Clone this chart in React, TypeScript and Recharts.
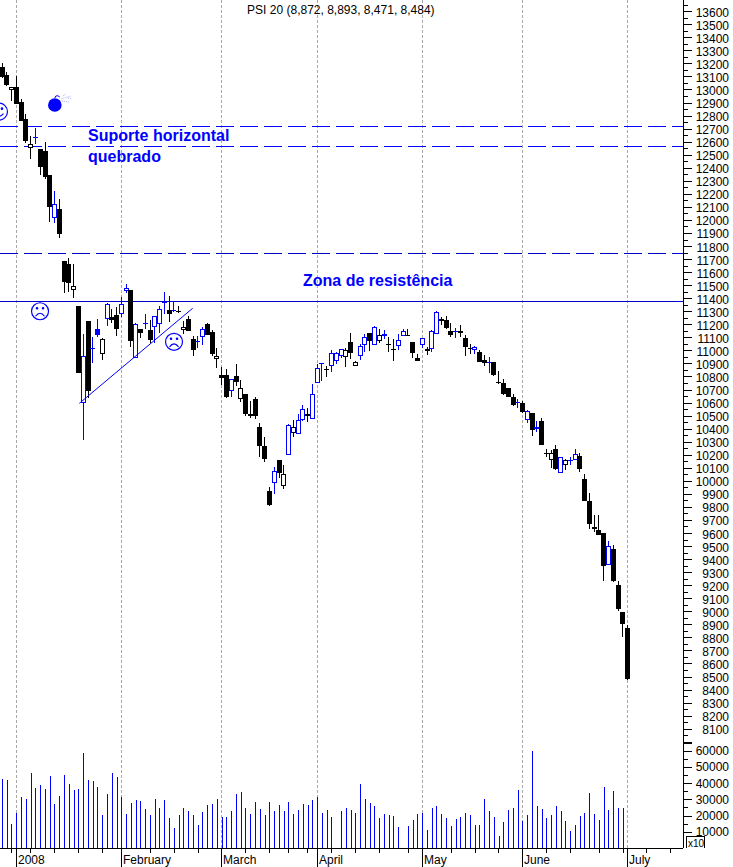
import React from "react";
import { ComposedChart, Bar, XAxis, YAxis, ReferenceLine, ReferenceDot, Customized } from "recharts";

const opens = [
  13176,13113,12993,13021,12901,12774,12554,12631,12544,12531,
  12345,12016,12087,11682,11664,11462,11337,10593,11223,11011,
  11167,10973,11243,11253,11269,11279,11455,11460,10942,11162,
  11207,11154,11179,11205,11368,11307,11305,11305,11159,11238,
  11085,11070,11103,11200,11141,10934,10809,10809,10689,10800,
  10631,10669,10509,10626,10412,10266,9922,9981,10157,9958,
  10200,10368,10360,10463,10511,10471,10751,10901,10861,10881,
  10919,10960,10950,11067,10881,10957,11041,11136,11041,11072,
  11113,11051,11012,11037,11113,11121,11067,10945,11044,10999,
  11014,11129,11228,11230,11152,11142,11152,11098,11021,11003,
  10985,10930,10904,10909,10758,10748,10710,10646,10598,10595,
  10463,10519,10394,10458,10216,10161,10241,10062,10123,10155,
  10157,10190,10014,9845,9629,9621,9598,9358,9478,9200,
  8994,8872,
];
const highs = [
  13202,13136,13021,13105,12927,12812,12646,12702,12547,12595,
  12347,12225,12162,11689,11710,11664,11337,11123,11223,11100,
  11238,11093,11360,11315,11332,11409,11506,11460,11207,11162,
  11276,11230,11261,11337,11447,11414,11370,11337,11223,11263,
  11108,11108,11179,11210,11154,11021,10873,10861,10784,10896,
  10771,10669,10611,10643,10440,10333,9950,10103,10157,10121,
  10432,10470,10511,10580,10557,10741,10894,10907,10878,11001,
  10986,11008,11018,11133,10917,11052,11123,11136,11184,11162,
  11159,11106,11087,11129,11162,11162,11067,10976,11098,11029,
  11154,11299,11256,11261,11213,11175,11192,11121,11052,11031,
  11001,10963,10950,10914,10840,10784,10710,10662,10631,10611,
  10542,10519,10458,10478,10241,10236,10272,10182,10164,10180,
  10241,10210,10052,9909,9738,9738,9600,9539,9509,9231,
  8996,8893,
];
const lows = [
  13090,13029,12914,12889,12755,12587,12470,12577,12348,12315,
  11990,11983,11860,11447,11447,11401,10827,10312,10634,10899,
  11098,10924,11187,11205,11108,11256,11435,11026,10942,11095,
  11162,11052,11057,11131,11282,11213,11294,11282,11123,11147,
  10955,11018,11039,11118,10955,10868,10733,10636,10649,10725,
  10605,10503,10483,10471,10177,10138,9802,9894,10021,9937,
  10198,10343,10358,10461,10452,10469,10749,10766,10797,10835,
  10896,10937,10873,10930,10879,10932,10988,11001,11039,11057,
  11087,10988,10919,11008,11111,11106,10942,10919,11021,10970,
  10988,11123,11192,11162,11103,11095,11103,10963,10976,10968,
  10907,10881,10827,10804,10741,10664,10641,10572,10562,10516,
  10445,10343,10376,10276,10180,10100,10083,10060,10077,10116,
  10155,10062,9848,9631,9610,9583,9235,9356,9228,8998,
  8802,8471,
];
const closes = [
  13092,13031,13019,12890,12757,12608,12579,12635,12403,12327,
  12097,12123,11891,11523,11519,11496,10827,10960,10687,11016,
  11116,11090,11358,11236,11161,11358,11481,11070,11205,11133,
  11210,11077,11261,11320,11370,11279,11307,11292,11182,11149,
  11001,11072,11164,11118,10970,10955,10789,10643,10784,10758,
  10708,10511,10498,10496,10269,10169,9817,10073,10062,10050,
  10425,10409,10463,10547,10498,10669,10868,10905,10853,10978,
  10982,11008,11001,10980,10914,11037,11103,11072,11182,11121,
  11129,11043,11005,11083,11152,11110,10980,10921,11098,11014,
  11152,11297,11243,11169,11118,11146,11136,11026,11011,11029,
  10909,10904,10909,10809,10752,10666,10643,10585,10601,10526,
  10539,10389,10409,10276,10213,10210,10090,10180,10157,10161,
  10207,10093,9848,9667,9646,9587,9350,9499,9235,9014,
  8906,8484,
];
const volumes: (number | null)[] = [
  42800,42200,15000,21800,31700,30500,46500,37250,39100,36600,
  44700,27400,32300,45300,39700,36000,36600,58900,42200,41600,
  37900,20600,33500,46500,44000,31700,21200,28000,29800,29200,
  24300,20600,30500,24900,29800,18700,12600,20600,24900,23000,
  20600,14400,22400,26800,27400,30500,19300,19300,23000,33500,
  34800,24900,21200,28600,24300,20600,28600,23000,26800,23000,
  28600,21200,23700,27400,26800,29800,31700,21800,23700,19300,
  null,23000,24900,23700,21800,39700,30500,28000,26100,18700,
  21200,20600,20000,13200,null,13800,17500,21200,21800,11300,
  24900,26100,21200,18700,13800,18100,19300,21800,20600,14400,
  14400,30500,23000,19300,7600,16300,23700,24900,36000,16900,
  20600,60100,26100,24300,18700,20600,26100,23000,16900,10700,
  14400,20000,21800,34200,21200,17500,37900,23700,35400,24900,
  24900,null,
];

const priceLabels = [
  13600,13500,13400,13300,13200,13100,13000,12900,12800,12700,12600,
  12500,12400,12300,12200,12100,12000,11900,11800,11700,11600,11500,
  11400,11300,11200,11100,11000,10900,10800,10700,10600,10500,10400,
  10300,10200,10100,10000,9900,9800,9700,9600,9500,9400,9300,9200,
  9100,9000,8900,8800,8700,8600,8500,8400,8300,8200,8100,
];
const priceTicks = [...priceLabels.flatMap((v) => [v, v + 50]), 8050, 8000];
const volumeLabels = [60000, 50000, 40000, 30000, 20000, 10000];
const volumeTicks = [...volumeLabels, 55000, 45000, 35000, 25000, 15000];

const monthIndex = [3, 25, 46, 66, 88, 109, 131];
const monthNames = ["2008", "February", "March", "April", "May", "June", "July"];
const weekIndex = [2, 6, 11, 16, 21, 31, 36, 41, 51, 56, 60, 64, 69, 74, 79, 85, 94, 99, 104, 114, 119, 125, 130, 135, 140];

const supportLevels = [12718, 12564];
const resistanceTop = 11741;
const resistanceBottom = 11376;
const trendStart = { i: 16.13, p: 10594 };
const trendEnd = { i: 39.87, p: 11323 };
const sadFaces = [
  { i: 7.9, p: 11300 },
  { i: 35.96, p: 11066 },
];
const otherFace = { i: -0.7, p: 12830 };
const bombAt = { i: 11, p: 12881 };

const xDomain: [number, number] = [-0.482, 142.55];
const priceDomain: [number, number] = [7975, 13686];
const backdropDomain: [number, number] = [7185, 13686];
const volumeDomain: [number, number] = [0, 63580];

const BLUE = "#0000ff";
const FONT = "'Liberation Sans', Arial, sans-serif";
const AXIS_X = 683;

const priceData = opens.map((o, i) => ({
  i,
  open: o,
  high: highs[i],
  low: lows[i],
  close: closes[i],
  prev: i > 0 ? closes[i - 1] : o + 1,
  range: [lows[i], highs[i]],
}));
const volumeData = volumes.map((v, i) => ({ i, volume: v }));

function Candle(props: any) {
  const { x, y, width, height, payload } = props;
  const { open, high, low, close, prev } = payload;
  const cx = Math.floor(x + width / 2);
  const yOf = (p: number) => y + ((high - p) / (high - low)) * height;
  const color = close >= prev ? BLUE : "#000000";
  const hollow = close > open;
  const top = Math.round(yOf(Math.max(open, close)));
  const bot = Math.round(yOf(Math.min(open, close)));
  const h = bot - top;
  return (
    <g shapeRendering="crispEdges">
      <rect x={cx} y={Math.round(y)} width={1} height={Math.max(Math.round(height), 1)} fill={color} />
      {hollow && h >= 2 ? (
        <rect x={cx - 1.5} y={top + 0.5} width={4} height={h - 1} fill="#ffffff" stroke={color} strokeWidth={1} />
      ) : (
        <rect x={cx - 2} y={top} width={5} height={Math.max(h, 1)} fill={color} />
      )}
    </g>
  );
}

function PriceTick(props: any) {
  const { y, payload } = props;
  const v = payload.value;
  const major = v % 100 === 0;
  const yy = Math.round(y) + 0.5;
  return (
    <g>
      <line x1={AXIS_X} x2={AXIS_X + (major ? 9 : 5)} y1={yy} y2={yy} stroke="#000" strokeWidth={v === 8000 ? 2 : 1} shapeRendering="crispEdges" />
      {major && v >= 8100 ? (
        <text x={729} y={y + 5.5} textAnchor="end" fontFamily={FONT} fontSize={12} fill="#000">{v}</text>
      ) : null}
    </g>
  );
}

function VolumeTick(props: any) {
  const { y, payload } = props;
  const v = payload.value;
  const major = v % 10000 === 0;
  const yy = Math.round(y) + 0.5;
  return (
    <g>
      <line x1={AXIS_X} x2={AXIS_X + (major ? 9 : 5)} y1={yy} y2={yy} stroke="#000" shapeRendering="crispEdges" />
      {major ? (
        <text x={729} y={y + 4.5} textAnchor="end" fontFamily={FONT} fontSize={12} fill="#000">{v}</text>
      ) : null}
    </g>
  );
}

function DateTick(props: any) {
  const { x, y, payload } = props;
  const m = monthIndex.indexOf(payload.value);
  const xx = Math.floor(x) + 0.5;
  return (
    <g shapeRendering="crispEdges">
      <line x1={xx} x2={xx} y1={y} y2={y + (m >= 0 ? 19 : 5)} stroke="#000" />
      {m >= 0 ? (
        <text x={xx + 1.5} y={y + 16} fontFamily={FONT} fontSize={12} fill="#000">{monthNames[m]}</text>
      ) : null}
    </g>
  );
}

const label = (text: string, size: number, anchor: string, bold: boolean, fill: string) => (p: any) => (
  <text x={p.cx} y={p.cy} fontFamily={FONT} fontSize={size} fontWeight={bold ? 700 : 400} textAnchor={anchor as any} fill={fill}>
    {text}
  </text>
);

function Face({ cx, cy, sad }: { cx: number; cy: number; sad: boolean }) {
  return (
    <g fill="none" stroke={BLUE} strokeWidth={1.2}>
      <circle cx={cx} cy={cy} r={8.5} fill="#ffffff" />
      <circle cx={cx - 3} cy={cy - 3} r={0.7} fill={BLUE} />
      <circle cx={cx + 3} cy={cy - 3} r={0.7} fill={BLUE} />
      {sad ? (
        <path d={`M${cx - 4.5} ${cy + 5} Q${cx} ${cy - 1} ${cx + 4.5} ${cy + 5}`} />
      ) : (
        <path d={`M${cx - 4.5} ${cy + 2} Q${cx} ${cy + 7} ${cx + 4.5} ${cy + 2}`} />
      )}
    </g>
  );
}

function Bomb({ cx, cy }: { cx: number; cy: number }) {
  return (
    <g>
      <circle cx={cx} cy={cy} r={6.8} fill={BLUE} />
      <path d={`M${cx} ${cy - 7} L${cx + 1} ${cy - 9} Q${cx + 3} ${cy - 10} ${cx + 5} ${cy - 8}`} fill="none" stroke={BLUE} strokeWidth={1} />
      <path
        d={`M${cx + 6} ${cy - 6} L${cx + 16} ${cy - 9} M${cx + 7} ${cy - 4} L${cx + 15} ${cy - 3} M${cx + 8} ${cy - 9} L${cx + 11} ${cy - 11} M${cx + 13} ${cy - 7} L${cx + 17} ${cy - 6}`}
        fill="none"
        stroke="#a8a8ff"
        strokeWidth={1}
        strokeDasharray="1 1"
      />
    </g>
  );
}

function XTenBox() {
  return (
    <g>
      <path d="M686.5 103 V91.5 H704.5 V103" fill="#ffffff" stroke="#000" shapeRendering="crispEdges" />
      <text x={688} y={102} fontFamily={FONT} fontSize={10} fill="#000">x10</text>
    </g>
  );
}

export default function App() {
  return (
    <div style={{ position: "absolute", left: 0, top: 0, width: 733, height: 867, background: "#fff", overflow: "hidden" }}>
      <div style={{ position: "absolute", left: 0, top: 0 }}>
        <ComposedChart width={733} height={848} data={priceData} margin={{ top: 0, right: 50, bottom: 0, left: 0 }}>
          <XAxis dataKey="i" type="number" domain={xDomain} allowDataOverflow hide />
          <YAxis type="number" domain={backdropDomain} allowDataOverflow hide />
          {monthIndex.map((m) => (
            <ReferenceLine key={m} x={m} stroke="#a8a8a8" strokeDasharray="3 2" shapeRendering="crispEdges" />
          ))}
          {supportLevels.map((v) => (
            <ReferenceLine key={v} y={v} stroke={BLUE} strokeDasharray="18 6" shapeRendering="crispEdges" />
          ))}
          <ReferenceLine y={resistanceTop} stroke="#0000cc" strokeDasharray="18 6" shapeRendering="crispEdges" />
          <ReferenceLine y={resistanceBottom} stroke="#0000cc" shapeRendering="crispEdges" />
        </ComposedChart>
      </div>
      <div style={{ position: "absolute", left: 0, top: 0 }}>
        <ComposedChart width={733} height={745} data={priceData} margin={{ top: 0, right: 0, bottom: 0, left: 0 }}>
          <XAxis dataKey="i" type="number" domain={xDomain} allowDataOverflow hide />
          <YAxis
            orientation="right"
            type="number"
            width={50}
            domain={priceDomain}
            allowDataOverflow
            ticks={priceTicks}
            interval={0}
            tickSize={0}
            tickMargin={0}
            tickLine={false}
            tick={PriceTick}
            axisLine={{ stroke: "#000", shapeRendering: "crispEdges" }}
          />
          <Bar dataKey="range" barSize={5} shape={Candle} isAnimationActive={false} />
          <ReferenceLine
            segment={[{ x: trendStart.i, y: trendStart.p }, { x: trendEnd.i, y: trendEnd.p }]}
            stroke={BLUE}
            strokeWidth={1}
          />
          {sadFaces.map((f) => (
            <ReferenceDot key={f.i} x={f.i} y={f.p} r={0} ifOverflow="visible" shape={(p: any) => <Face cx={p.cx} cy={p.cy} sad />} />
          ))}
          <ReferenceDot x={otherFace.i} y={otherFace.p} r={0} ifOverflow="visible" shape={(p: any) => <Face cx={p.cx} cy={p.cy} sad={false} />} />
          <ReferenceDot x={bombAt.i} y={bombAt.p} r={0} ifOverflow="visible" shape={(p: any) => <Bomb cx={p.cx} cy={p.cy} />} />
          <ReferenceDot x={17.95} y={12605} r={0} ifOverflow="visible" shape={label("Suporte horizontal", 16, "start", true, BLUE)} />
          <ReferenceDot x={17.95} y={12444} r={0} ifOverflow="visible" shape={label("quebrado", 16, "start", true, BLUE)} />
          <ReferenceDot x={62.97} y={11493} r={0} ifOverflow="visible" shape={label("Zona de resistência", 16, "start", true, BLUE)} />
          <ReferenceDot x={70.9} y={13579} r={0} ifOverflow="visible" shape={label("PSI 20 (8,872, 8,893, 8,471, 8,484)", 12, "middle", false, "#000")} />
        </ComposedChart>
      </div>
      <div style={{ position: "absolute", left: 0, top: 745 }}>
        <ComposedChart width={733} height={122} data={volumeData} margin={{ top: 0, right: 0, bottom: 0, left: 0 }}>
          <XAxis
            dataKey="i"
            type="number"
            domain={xDomain}
            allowDataOverflow
            height={19}
            ticks={[...monthIndex, ...weekIndex].sort((a, b) => a - b)}
            interval={0}
            tickSize={0}
            tickMargin={0}
            tickLine={false}
            tick={DateTick}
            axisLine={{ stroke: "#000", shapeRendering: "crispEdges" }}
          />
          <YAxis
            orientation="right"
            type="number"
            width={50}
            domain={volumeDomain}
            allowDataOverflow
            ticks={volumeTicks}
            interval={0}
            tickSize={0}
            tickMargin={0}
            tickLine={false}
            tick={VolumeTick}
            axisLine={{ stroke: "#000", shapeRendering: "crispEdges" }}
          />
          <Bar dataKey="volume" barSize={1} fill={BLUE} shapeRendering="crispEdges" isAnimationActive={false} />
          <Customized component={XTenBox} />
        </ComposedChart>
      </div>
    </div>
  );
}
